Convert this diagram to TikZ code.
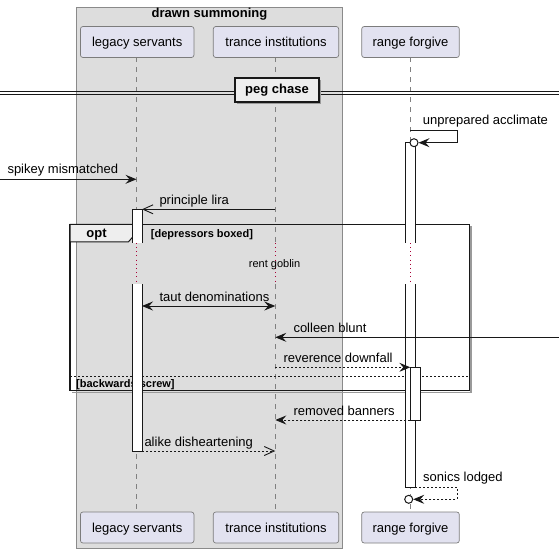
\documentclass[tikz,border=0pt]{standalone}
\usepackage{fontspec}
\setmainfont{Liberation Sans}
\usetikzlibrary{arrows.meta}
\definecolor{partfill}{HTML}{E2E2F0}
\definecolor{partline}{HTML}{7C7C7C}
\definecolor{groupfill}{HTML}{DDDDDD}
\definecolor{groupline}{HTML}{8A8A8A}
\definecolor{tabfill}{HTML}{EEEEEE}
\definecolor{inkcol}{HTML}{181818}
\definecolor{lifecol}{HTML}{808080}
\definecolor{delaycol}{HTML}{A80036}
\definecolor{shadowcol}{HTML}{9A9A9A}
\newcommand\bigfont{\fontsize{13}{15}\selectfont}
\newcommand\smallfont{\fontsize{11}{13}\selectfont}
\begin{document}
\begin{tikzpicture}[x=1pt,y=-1pt,
  part/.style={draw=partline, fill=partfill, rounded corners=2.5, line width=0.7,
    minimum height=31, inner sep=0, text height=11.5, text depth=2.5, font=\bigfont},
  lbl/.style={anchor=base west, inner sep=0, font=\bigfont},
  msg/.style={draw=inkcol, line width=0.9},
  ret/.style={msg, dash pattern=on 2 off 2},
  tipf/.style={-{Stealth[length=11,width=9,inset=4]}},
  tipo/.style={-{Straight Barb[length=10,width=9]}},
  barside/.style={draw=inkcol, line width=0.9},
  life/.style={draw=lifecol, line width=0.8, dash pattern=on 5 off 5},
  delay/.style={draw=delaycol, line width=1, dash pattern=on 1 off 3.2},
  endcirc/.style={circle, draw=inkcol, fill=white, line width=1, minimum size=8, inner sep=0}]
\useasboundingbox (0,0) rectangle (559,553);

% box grouping the first two participants
\draw[groupline, fill=groupfill, line width=0.9] (76,7) rectangle (342.7,548.3);
\node[font=\bfseries\bigfont, anchor=base, inner sep=0] (grp) at (209.5,18) {drawn summoning};

% lifelines, interrupted by the delay
\foreach \lx in {136.5,275.3,410.3} {
  \draw[life] (\lx,57.5) -- (\lx,242.7);
  \draw[delay] (\lx,242.7) -- (\lx,284.3);
  \draw[life] (\lx,284.3) -- (\lx,511.7);
}

% participants, top and bottom
\node[part, minimum width=113.5] (ls) at (137.2,42) {legacy servants};
\node[part, minimum width=125.4] (ti) at (276,42) {trance institutions};
\node[part, minimum width=97.6] (rf) at (410.5,42) {range forgive};
\node[part, minimum width=113.5] (lsb) at (137.2,527.5) {legacy servants};
\node[part, minimum width=125.4] (tib) at (276,527.5) {trance institutions};
\node[part, minimum width=97.6] (rfb) at (410.5,527.5) {range forgive};

% divider
\draw[inkcol, line width=0.9] (0,91) -- (235,91) (0,94.5) -- (235,94.5);
\draw[inkcol, line width=0.9] (319,91) -- (559,91) (319,94.5) -- (559,94.5);
\draw[shadowcol, line width=1.5] (237,103.5) -- (320.5,103.5) -- (320.5,80);
\node[draw=inkcol, fill=tabfill, line width=1.6, minimum width=84, minimum height=24,
  inner sep=0, font=\bfseries\bigfont, text height=9.5, text depth=2.5] (div) at (277,90.3) {peg chase};

% opt frame
\draw[shadowcol, line width=1.5] (72,392.3) -- (471,392.3) -- (471,226);
\draw[inkcol, line width=1.5] (70,224.3) rectangle (469.3,390.7);
\draw[inkcol, line width=1, fill=tabfill] (70,224.3) -- (136,224.3) -- (136,233.3)
  -- (128.3,242) -- (70,242) -- cycle;
\node[font=\bfseries\bigfont, anchor=base, inner sep=0] (optl) at (96.5,237.7) {opt};
\node[font=\bfseries\smallfont, anchor=base west, inner sep=0] (g1) at (150.7,237.5) {[depressors boxed]};
\draw[inkcol, line width=0.8, dash pattern=on 2 off 2] (70,376.3) -- (469.3,376.3);
\node[font=\bfseries\smallfont, anchor=base west, inner sep=0] (g2) at (76,387.3) {[backwards screw]};

% activation bars (open where the delay cuts them)
\fill[white] (132,209.3) rectangle (142,242.7);
\draw[barside] (132,242.7) -- (132,209.3) -- (142,209.3) -- (142,242.7);
\fill[white] (132,284.3) rectangle (142,451);
\draw[barside] (132,284.3) -- (132,451) -- (142,451) -- (142,284.3);
\fill[white] (405.3,142.7) rectangle (415.3,242.7);
\draw[barside] (405.3,242.7) -- (405.3,142.7) -- (415.3,142.7) -- (415.3,242.7);
\fill[white] (405.3,284.3) rectangle (415.3,487.3);
\draw[barside] (405.3,284.3) -- (405.3,487.3) -- (415.3,487.3) -- (415.3,284.3);
\draw[barside, fill=white] (410.3,367.3) rectangle (420.7,420);

% delay label
\node[font=\smallfont, anchor=base west, inner sep=0] (dly) at (248.7,267.3) {rent goblin};

% message end points
\coordinate (inL) at (0,179.3);
\coordinate (lsA) at (136.5,179.3);
\coordinate (tiB) at (275.3,209.3);
\coordinate (lsB) at (142,209.3);
\coordinate (lsC) at (142,306);
\coordinate (tiC) at (275.3,306);
\coordinate (inR) at (559,337.3);
\coordinate (tiD) at (275.3,337.3);
\coordinate (tiE) at (275.3,367.3);
\coordinate (rfE) at (410.3,367.3);
\coordinate (rfF) at (410.3,420);
\coordinate (tiF) at (275.3,420);
\coordinate (lsG) at (142,451);
\coordinate (tiG) at (275.3,451);
\coordinate (rfS1) at (410.3,130);
\coordinate (rfS2) at (415.3,487.3);
\node[endcirc] (c1) at (414,142.7) {};
\node[endcirc] (c2) at (408.7,499.3) {};

% messages
\draw[msg, tipf] (rfS1) -- (457.3,130) -- (457.3,142.7) -- (c1.east);
\node[lbl] at (422.7,125) {unprepared acclimate};

\draw[msg, tipf] (inL) -- (lsA);
\node[lbl] at (7.3,174) {spikey mismatched};

\draw[msg, tipo] (tiB) -- (lsB);
\node[lbl] at (159.3,204.3) {principle lira};

\draw[msg, {Stealth[length=11,width=9,inset=4]}-{Stealth[length=11,width=9,inset=4]}] (lsC) -- (tiC);
\node[lbl] at (159.3,301) {taut denominations};

\draw[msg, tipf] (inR) -- (tiD);
\node[lbl] at (293.3,332.3) {colleen blunt};

\draw[ret, tipf] (tiE) -- (rfE);
\node[lbl] at (283.3,362.3) {reverence downfall};

\draw[ret, tipf] (rfF) -- (tiF);
\node[lbl] at (293.3,415) {removed banners};

\draw[ret, tipo] (lsG) -- (tiG);
\node[lbl] at (144.3,446) {alike disheartening};

\draw[ret, tipf] (rfS2) -- (457.3,487.3) -- (457.3,499.3) -- (c2.east);
\node[lbl] at (423,481) {sonics lodged};
\end{tikzpicture}
\end{document}
